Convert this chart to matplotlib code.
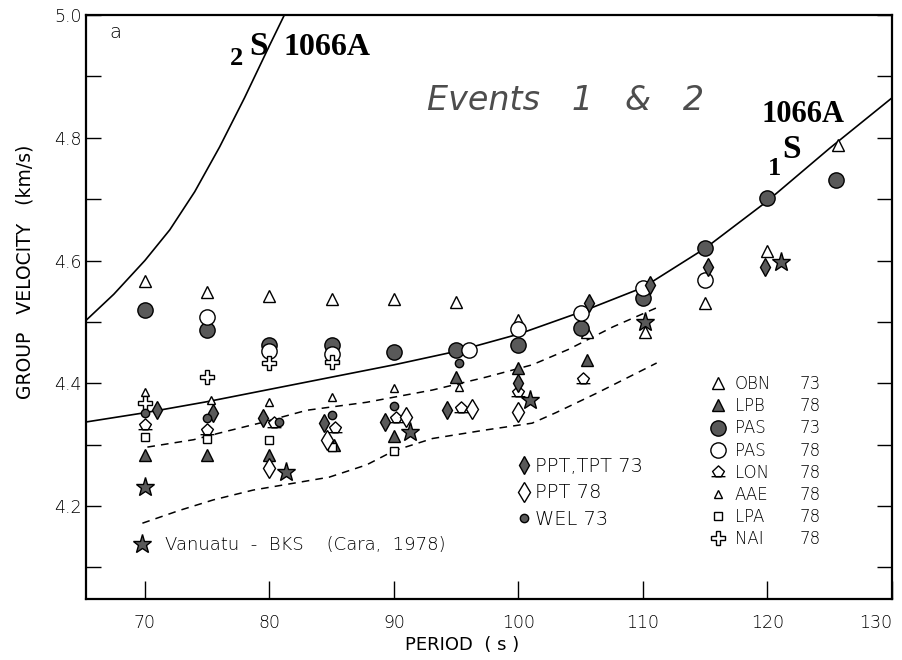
import matplotlib
matplotlib.use('Agg')
import matplotlib.pyplot as plt
from matplotlib.path import Path
from matplotlib.lines import Line2D

plt.rcParams['font.family'] = ['DejaVu Sans']
plt.rcParams['font.weight'] = 'light'

# ---------------- data ----------------
# theoretical curves
s2_period = [65.3, 67.5, 70.0, 72.0, 74.0, 76.0, 78.0, 80.0, 81.2]
s2_vel    = [4.503, 4.545, 4.600, 4.650, 4.712, 4.785, 4.865, 4.950, 5.000]

s1_period = [65.3, 70, 75, 80, 85, 90, 95, 100, 105, 110, 115, 120, 125, 130]
s1_vel    = [4.337, 4.352, 4.370, 4.390, 4.410, 4.430, 4.452, 4.480, 4.516, 4.556, 4.620, 4.697, 4.783, 4.865]

up_period = [70.2, 73.9, 76.4, 79.2, 83.0, 87.8, 93.1, 97.4, 101.1, 104.0, 107.6, 111.1]
up_vel    = [4.296, 4.308, 4.321, 4.335, 4.356, 4.369, 4.389, 4.410, 4.430, 4.455, 4.492, 4.523]

lo_period = [69.8, 72.8, 75.5, 78.7, 81.9, 84.8, 87.8, 90.0, 93.1, 97.4, 101.1, 103.0, 106.3, 111.1]
lo_vel    = [4.172, 4.193, 4.210, 4.226, 4.237, 4.247, 4.267, 4.290, 4.310, 4.324, 4.335, 4.352, 4.384, 4.433]

# observations
obn_p = [70, 75, 80, 85, 90, 95, 100, 105.5, 110.2, 115, 120, 125.7]
obn_v = [4.567, 4.549, 4.542, 4.537, 4.537, 4.532, 4.503, 4.484, 4.484, 4.531, 4.615, 4.788]

lpb_p = [70, 75, 80, 85.2, 90, 95, 100, 105.5]
lpb_v = [4.283, 4.283, 4.283, 4.300, 4.314, 4.410, 4.425, 4.438]

pas73_p = [70, 75, 80, 85, 90, 95, 100, 105, 110, 115, 120, 125.5]
pas73_v = [4.519, 4.487, 4.462, 4.462, 4.451, 4.454, 4.462, 4.490, 4.539, 4.620, 4.702, 4.731]

pas78_p = [75, 80, 85, 96, 100, 105, 110, 115]
pas78_v = [4.508, 4.452, 4.448, 4.455, 4.488, 4.514, 4.555, 4.568]

lon_p = [70, 75, 80.4, 85.3, 90.2, 95.4, 100, 105.2]
lon_v = [4.332, 4.324, 4.335, 4.327, 4.343, 4.360, 4.386, 4.407]

aae_p = [70, 75.3, 80, 85, 90, 95.2]
aae_v = [4.386, 4.373, 4.369, 4.378, 4.392, 4.394]

lpa_p = [70, 75, 80, 85, 90]
lpa_v = [4.312, 4.309, 4.308, 4.296, 4.290]

nai_p = [70, 75, 80, 85]
nai_v = [4.368, 4.410, 4.433, 4.435]

ppt73_p = [71, 75.5, 79.5, 84.4, 89.3, 94.3, 100, 105.7, 110.6, 115.2, 119.8]
ppt73_v = [4.356, 4.352, 4.343, 4.335, 4.337, 4.357, 4.400, 4.531, 4.560, 4.589, 4.589]

ppt78_p = [80, 84.6, 91, 96.3, 100]
ppt78_v = [4.262, 4.307, 4.345, 4.358, 4.353]

wel_p = [70, 75, 80.8, 85, 90, 95.2]
wel_v = [4.352, 4.343, 4.337, 4.348, 4.363, 4.433]

bks_p = [70, 81.3, 91.3, 100.9, 110.2, 121.1]
bks_v = [4.231, 4.255, 4.321, 4.373, 4.500, 4.598]

station_names = ['OBN', 'LPB', 'PAS', 'PAS', 'LON', 'AAE', 'LPA', 'NAI']
station_years = ['73', '78', '73', '78', '78', '78', '78', '78']
mid_labels = ['PPT,TPT 73', 'PPT 78', 'WEL 73']
bks_label = 'Vanuatu  -  BKS    (Cara,  1978)'

x_ticks = [70, 80, 90, 100, 110, 120, 130]
y_major = [4.2, 4.4, 4.6, 4.8, 5.0]
y_minor = [4.1, 4.3, 4.5, 4.7, 4.9]

# ---------------- figure ----------------
W, H = 903, 660
fig = plt.figure(figsize=(W / 100, H / 100), dpi=100)
L, R, T, B = 86, 892, 15, 599
ax = fig.add_axes([L / W, (H - B) / H, (R - L) / W, (B - T) / H])
ax.set_xlim(65.27, 129.95)
ax.set_ylim(4.0485, 5.0)

def fx(px):
    return (px - L) / (R - L)

def fy(py):
    return (B - py) / (B - T)

gray = '0.35'
lw_c = 1.2
ax.plot(s2_period, s2_vel, color='black', lw=lw_c)
ax.plot(s1_period, s1_vel, color='black', lw=lw_c)
ax.plot(up_period, up_vel, color='black', lw=1.1, ls=(0, (5, 4)))
ax.plot(lo_period, lo_vel, color='black', lw=1.1, ls=(0, (5, 4)))

# LON marker: diamond sitting on a base line
lon_marker = Path(
    [(-1.0, -0.6), (1.0, -0.6),
     (-0.4, -0.6), (-0.85, 0.15), (0.0, 0.95), (0.85, 0.15), (0.4, -0.6), (-0.4, -0.6)],
    [Path.MOVETO, Path.LINETO,
     Path.MOVETO, Path.LINETO, Path.LINETO, Path.LINETO, Path.LINETO, Path.CLOSEPOLY])

kw = dict(ls='none', mec='black', mew=1.0)
h_obn, = ax.plot(obn_p, obn_v, marker='^', ms=9, mfc='white', **kw)
h_lpb, = ax.plot(lpb_p, lpb_v, marker='^', ms=9, mfc=gray, **kw)
h_pas73, = ax.plot(pas73_p, pas73_v, marker='o', ms=11, mfc=gray, **kw)
h_pas78, = ax.plot(pas78_p, pas78_v, marker='o', ms=11, mfc='white', **kw)
h_lon, = ax.plot(lon_p, lon_v, marker=lon_marker, ms=10, mfc='white', **kw)
h_aae, = ax.plot(aae_p, aae_v, marker='^', ms=6, mfc='white', **kw)
h_lpa, = ax.plot(lpa_p, lpa_v, marker='s', ms=6, mfc='white', **kw)
h_nai, = ax.plot(nai_p, nai_v, marker='P', ms=10, mfc='white', **kw)
h_ppt73, = ax.plot(ppt73_p, ppt73_v, marker='d', ms=9, mfc=gray, **kw)
h_ppt78, = ax.plot(ppt78_p, ppt78_v, marker='d', ms=10, mfc='white', **kw)
h_wel, = ax.plot(wel_p, wel_v, marker='o', ms=6, mfc=gray, **kw)
h_bks, = ax.plot(bks_p, bks_v, marker='*', ms=14, mfc=gray, **kw)

# ---------------- axes styling ----------------
for s in ax.spines.values():
    s.set_linewidth(1.6)
ax.set_xticks(x_ticks)
ax.set_xticklabels([str(t) for t in x_ticks])
ax.get_xticklabels()[-1].set_horizontalalignment('right')
ax.set_yticks(y_major)
ax.set_yticklabels([f'{v:.1f}' for v in y_major])
ax.set_yticks(y_minor, minor=True)
ax.tick_params(axis='x', direction='in', length=13, width=1.0, pad=11, labelsize=12.5,
               top=False, labelcolor='black')
ax.tick_params(axis='y', which='both', direction='in', length=10.8, width=1.0, pad=3,
               labelsize=12.5, right=True, labelcolor='black')

ax.set_xlabel('PERIOD  ( s )', fontsize=13)
ax.xaxis.set_label_coords(fx(462), fy(645))
ax.xaxis.label.set_verticalalignment('center')
ax.set_ylabel('GROUP   VELOCITY   (km/s)', fontsize=13.5)
ax.yaxis.set_label_coords(fx(25), fy(272))
ax.yaxis.label.set_verticalalignment('center')

# ---------------- annotations ----------------
ax.text(fx(115), fy(33), 'a', transform=ax.transAxes, fontsize=14, ha='center', va='center')
ax.text(fx(566), fy(100), 'Events   1   &   2', transform=ax.transAxes, fontsize=24,
        style='italic', ha='center', va='center', color='0.3')
serif = dict(family='Liberation Serif', weight='bold', transform=ax.transAxes, va='baseline')
ax.text(fx(230), fy(65), '2', fontsize=19, **serif)
ax.text(fx(249), fy(55), 'S', fontsize=24, **serif)
ax.text(fx(284), fy(55), '1066A', fontsize=23, **serif)
ax.text(fx(762), fy(122), '1066A', fontsize=22, **serif)
ax.text(fx(782), fy(158), 'S', fontsize=24, **serif)
ax.text(fx(768), fy(175), '1', fontsize=19, **serif)

# ---------------- legends ----------------
blank = Line2D([], [], ls='none', marker='')
leg1 = ax.legend([h_obn, h_lpb, h_pas73, h_pas78, h_lon, h_aae, h_lpa, h_nai] + [blank] * 8,
                 station_names + station_years, ncol=2, loc='upper left',
                 bbox_to_anchor=(fx(710), fy(375)), borderaxespad=0, borderpad=0,
                 frameon=False, fontsize=12, handlelength=1.0, handletextpad=0.5,
                 columnspacing=0.2, labelspacing=0.25, numpoints=1)
ax.add_artist(leg1)
leg2 = ax.legend([h_ppt73, h_ppt78, h_wel], mid_labels, loc='upper left',
                 bbox_to_anchor=(fx(516), fy(457)), borderaxespad=0, borderpad=0,
                 frameon=False, fontsize=14, handlelength=0.8, handletextpad=0.18,
                 labelspacing=0.38, numpoints=1)
ax.add_artist(leg2)
leg3 = ax.legend([h_bks], [bks_label], loc='upper left',
                 bbox_to_anchor=(fx(133), fy(536.5)), borderaxespad=0, borderpad=0,
                 frameon=False, fontsize=13, handlelength=1.0, handletextpad=0.78,
                 numpoints=1)

fig.savefig('out.png', dpi=100)
